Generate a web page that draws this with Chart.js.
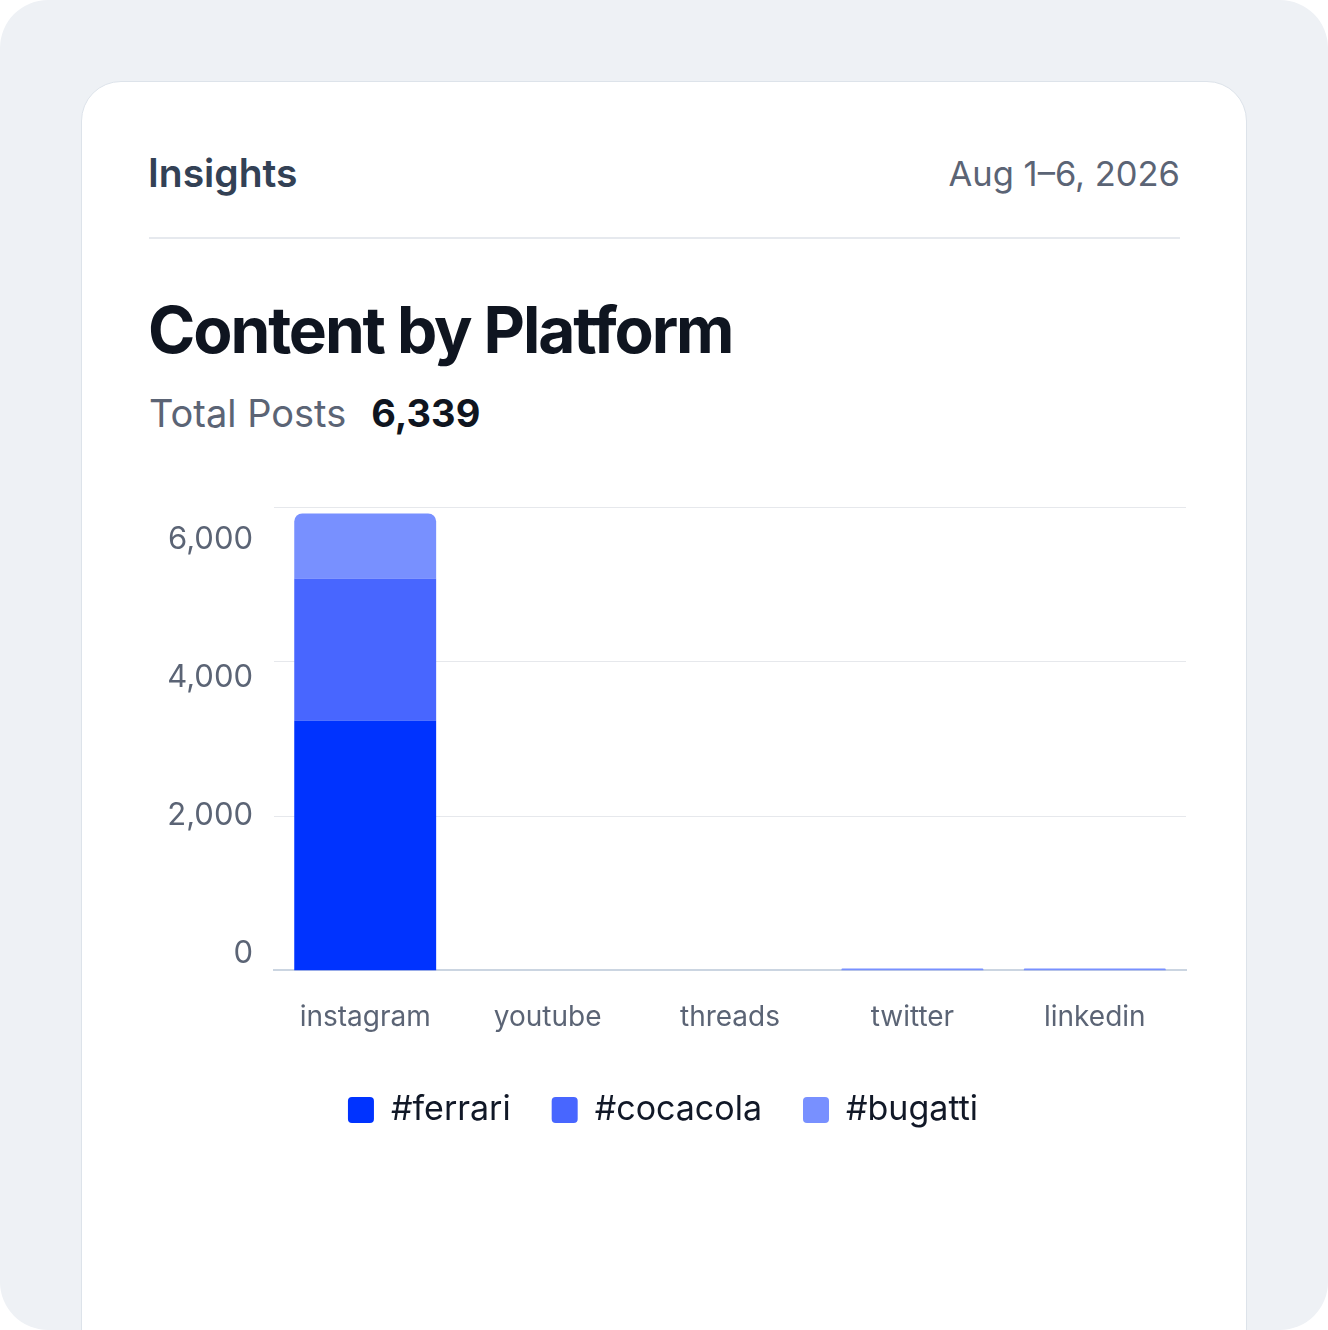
<!DOCTYPE html>
<html>
<head>
<meta charset="utf-8">
<script src="https://cdn.jsdelivr.net/npm/chart.js@4"></script>
<style>
  html, body { margin: 0; padding: 0; background: #ffffff; }
  body { width: 1328px; height: 1330px; overflow: hidden; font-family: Inter, "Noto Sans", sans-serif; }
  .frame { position: relative; width: 1328px; height: 1330px; background: #eef1f5; border-radius: 48px; overflow: hidden; }
  .card { position: absolute; left: 81px; top: 81px; width: 1164px; height: 1320px; background: #ffffff;
          border: 1px solid #dde3ea; border-radius: 40px; }
  .insights { position: absolute; left: 66px; top: 69px; font-size: 39px; font-weight: 600; color: #334155; line-height: 44px; }
  .date { position: absolute; right: 66px; top: 72px; font-size: 34.5px; font-weight: 400; color: #5b6475; line-height: 40px; }
  .rule { position: absolute; left: 67px; right: 66px; top: 155px; height: 2px; background: #e6e9ee; }
  .title { position: absolute; left: 66px; top: 210px; font-size: 64px; font-weight: 700; color: #0f1520;
           letter-spacing: -2.1px; line-height: 76px; }
  .total { position: absolute; left: 67px; top: 308px; font-size: 38px; line-height: 46px; color: #5b6475; }
  .total b { color: #0f1520; font-weight: 700; margin-left: 25px; }
  .chart-box { position: absolute; left: 140px; top: 468px; width: 1060px; height: 669px; }
</style>
</head>
<body>
<div class="frame">
  <div class="card">
    <div class="insights">Insights</div>
    <div class="date">Aug 1–6, 2026</div>
    <div class="rule"></div>
    <div class="title">Content by Platform</div>
    <div class="total">Total Posts<b>6,339</b></div>
  </div>
  <div class="chart-box"><canvas id="platformChart"></canvas></div>
</div>
<script>
var platforms = ["instagram", "youtube", "threads", "twitter", "linkedin"];
var tagNames = ["#ferrari", "#cocacola", "#bugatti"];
var ferrariPosts = [3440, 0, 0, 0, 0];
var cocacolaPosts = [1955, 0, 0, 0, 0];
var bugattiPosts = [894, 0, 0, 25, 25];
var yTickLabels = [0, 2000, 4000, 6000];
var tagColors = ["#0033ff", "#4866ff", "#7890ff"];

var yMax = 6370;

var ctx = document.getElementById('platformChart').getContext('2d');
var chart = new Chart(ctx, {
  type: 'bar',
  data: {
    labels: platforms,
    datasets: [
      { label: tagNames[0], data: ferrariPosts, backgroundColor: tagColors[0], borderRadius: 0 },
      { label: tagNames[1], data: cocacolaPosts, backgroundColor: tagColors[1], borderRadius: 0 },
      { label: tagNames[2], data: bugattiPosts, backgroundColor: tagColors[2], borderRadius: { topLeft: 8, topRight: 8 } }
    ]
  },
  options: {
    responsive: true,
    maintainAspectRatio: false,
    animation: false,
    layout: { padding: { top: 27, right: 14, bottom: 0, left: 0 } },
    datasets: { bar: { categoryPercentage: 1, barPercentage: 0.778 } },
    plugins: {
      tooltip: { enabled: false },
      legend: {
        position: 'bottom',
        labels: {
          boxWidth: 26, boxHeight: 26, padding: 41,
          useBorderRadius: true, borderRadius: 4,
          color: '#111827',
          font: { family: 'Inter', size: 34 }
        }
      }
    },
    scales: {
      x: {
        stacked: true,
        grid: { display: false, drawTicks: false },
        border: { display: true, color: '#cbd5e1', width: 2 },
        ticks: { color: '#5b6475', padding: 30, font: { family: 'Inter', size: 28 } },
        afterFit: function(axis) { axis.height -= 12; }
      },
      y: {
        stacked: true,
        min: 0,
        max: yMax,
        position: 'left',
        grid: { color: '#e6e8ec', lineWidth: 1, drawTicks: false },
        border: { display: false },
        ticks: { display: false },
        afterBuildTicks: function(axis) {
          axis.ticks = [1, 2, 3].map(function(i) { return { value: yMax * i / 3 }; });
        },
        afterFit: function(axis) { axis.width = 0; }
      },
      yLabels: {
        type: 'linear',
        position: 'left',
        min: -239,
        max: 6471,
        grid: { display: false, drawTicks: false },
        border: { display: false },
        ticks: {
          color: '#5b6475', padding: 21, font: { family: 'Inter', size: 31 },
          callback: function(v) { return v.toLocaleString('en-US'); }
        },
        afterBuildTicks: function(axis) {
          axis.ticks = yTickLabels.map(function(v) { return { value: v }; });
        },
        afterFit: function(axis) { axis.width = 134; }
      }
    }
  }
});
</script>
</body>
</html>
